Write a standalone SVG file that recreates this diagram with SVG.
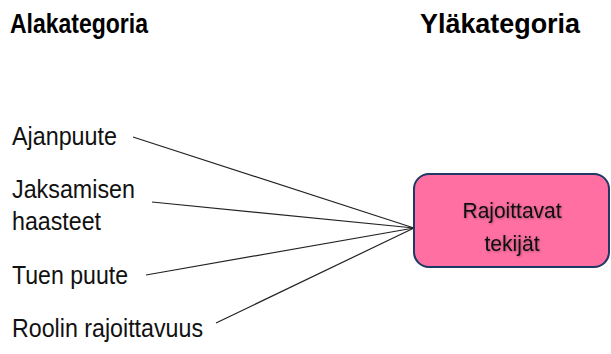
<svg xmlns="http://www.w3.org/2000/svg" width="611" height="354" viewBox="0 0 611 354">
  <style>
    .title { font-family: "Liberation Sans Narrow", "Liberation Sans", Arial, sans-serif; font-weight: bold; font-size: 28px; fill: #000; }
    .label { font-family: "Liberation Sans", Arial, sans-serif; font-size: 25px; fill: #111; }
    .boxtext { font-family: "Liberation Sans", Arial, sans-serif; font-size: 22px; fill: #111; text-anchor: middle; }
    .link { stroke: #222; stroke-width: 1.2; fill: none; }
    .box { fill: #ff6fa1; stroke: #1f3864; stroke-width: 2; }
  </style>
  <defs>
    <filter id="soft" x="-10%" y="-10%" width="120%" height="130%">
      <feDropShadow dx="0.8" dy="0.8" stdDeviation="0.8" flood-color="#000" flood-opacity="0.35"/>
    </filter>
  </defs>

  <!-- column headings -->
  <text class="title" x="10" y="33" textLength="138" lengthAdjust="spacingAndGlyphs">Alakategoria</text>
  <text class="title" x="420" y="33" textLength="160" lengthAdjust="spacingAndGlyphs">Yläkategoria</text>

  <!-- connectors -->
  <g id="connectors">
    <line class="link" x1="133" y1="137" x2="414" y2="228"/>
    <line class="link" x1="152" y1="202" x2="414" y2="228"/>
    <line class="link" x1="146" y1="275" x2="414" y2="228"/>
    <line class="link" x1="216" y1="323" x2="414" y2="228"/>
  </g>

  <!-- subcategories -->
  <g id="ajanpuute">
    <text class="label" x="12" y="145" textLength="105" lengthAdjust="spacingAndGlyphs">Ajanpuute</text>
  </g>
  <g id="jaksamisen-haasteet">
    <text class="label" x="12" y="198" textLength="123" lengthAdjust="spacingAndGlyphs">Jaksamisen</text>
    <text class="label" x="12" y="230" textLength="89" lengthAdjust="spacingAndGlyphs">haasteet</text>
  </g>
  <g id="tuen-puute">
    <text class="label" x="12" y="284" textLength="116" lengthAdjust="spacingAndGlyphs">Tuen puute</text>
  </g>
  <g id="roolin-rajoittavuus">
    <text class="label" x="12" y="337" textLength="191" lengthAdjust="spacingAndGlyphs">Roolin rajoittavuus</text>
  </g>

  <!-- main category -->
  <g id="rajoittavat-tekijat">
    <rect class="box" x="414" y="174" width="195" height="93" rx="15" ry="15"/>
    <g filter="url(#soft)">
      <text class="boxtext" x="512" y="218" textLength="99" lengthAdjust="spacingAndGlyphs">Rajoittavat</text>
      <text class="boxtext" x="512" y="251" textLength="55" lengthAdjust="spacingAndGlyphs">tekijät</text>
    </g>
  </g>
</svg>
